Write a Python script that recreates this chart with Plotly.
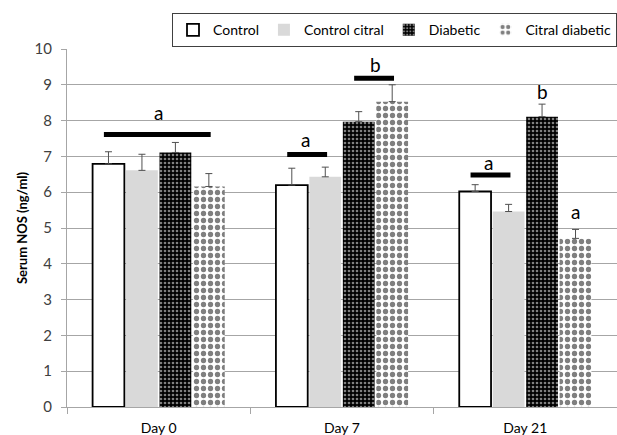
import plotly.graph_objects as go

categories = ["Day 0", "Day 7", "Day 21"]
series_names = ["Control", "Control citral", "Diabetic", "Citral diabetic"]
control = [6.79, 6.20, 6.02]
control_err = [0.34, 0.47, 0.19]
control_citral = [6.61, 6.43, 5.46]
control_citral_err = [0.45, 0.27, 0.20]
diabetic = [7.11, 7.97, 8.11]
diabetic_err = [0.28, 0.28, 0.35]
citral_diabetic = [6.16, 8.53, 4.71]
citral_diabetic_err = [0.36, 0.47, 0.25]

# significance bars: (category index, first bar, last bar, level)
sig_lines = [(0, 0, 3, 7.61), (1, 0, 1, 7.05), (1, 2, 3, 9.18), (2, 0, 1, 6.48)]
# letters: (category index, bar position (can be fractional), level, text)
sig_letters = [(0, 1.5, 8.23, "a"), (1, 0.4, 7.46, "a"), (1, 2.5, 9.56, "b"),
               (2, 0.4, 6.83, "a"), (2, 2.0, 8.80, "b"), (2, 3.0, 5.45, "a")]

FONT = "Lato"
bargap = 0.27
group_w = 1 - bargap
slot = group_w / 4


def bar_x(cat, pos):
    return cat - group_w / 2 + (pos + 0.5) * slot


values = [control, control_citral, diabetic, citral_diabetic]
errors = [control_err, control_citral_err, diabetic_err, citral_diabetic_err]
markers = [
    dict(color="white", line=dict(color="black", width=1.8)),
    dict(color="#d9d9d9", line=dict(width=0)),
    dict(color="black", line=dict(width=0),
         pattern=dict(shape=".", fgcolor="white", bgcolor="black", size=4, solidity=0.35)),
    dict(color="white", line=dict(width=0),
         pattern=dict(shape=".", fgcolor="black", bgcolor="white", size=7, solidity=0.45)),
]

fig = go.Figure()
for name, v, e, m in zip(series_names, values, errors, markers):
    fig.add_trace(go.Bar(
        x=categories, y=v, name=name, marker=m,
        error_y=dict(type="data", symmetric=False, array=e, arrayminus=[0] * len(e),
                     color="#505050", thickness=1, width=3.5),
    ))

for cat, b0, b1, lvl in sig_lines:
    fig.add_shape(type="line", xref="x", yref="y",
                  x0=bar_x(cat, b0) - 0.025, x1=bar_x(cat, b1) + 0.01, y0=lvl, y1=lvl,
                  line=dict(color="black", width=5))

for cat, pos, lvl, txt in sig_letters:
    fig.add_annotation(x=bar_x(cat, pos), y=lvl, xref="x", yref="y", text=txt,
                       showarrow=False, font=dict(family=FONT, size=19, color="black"))

fig.update_layout(
    width=617, height=435,
    margin=dict(l=67, r=0, t=49, b=28, autoexpand=False),
    paper_bgcolor="white", plot_bgcolor="white",
    barmode="group", bargap=bargap, bargroupgap=0.05,
    font=dict(family=FONT, size=14, color="#404040"),
    legend=dict(orientation="h", x=1.0, y=1.10, xanchor="right", yanchor="top",
                bordercolor="#404040", borderwidth=1, font=dict(family=FONT, size=14, color="black"),
                itemwidth=30, tracegroupgap=0, traceorder="normal"),
    showlegend=True,
)
fig.update_xaxes(type="category", showline=True, linecolor="#a6a6a6", linewidth=1,
                 ticks="outside", tickson="boundaries", ticklen=6, tickcolor="#a6a6a6",
                 ticklabelstandoff=8,
                 tickfont=dict(family=FONT, size=14, color="black"), showgrid=False)
fig.update_yaxes(range=[0, 10], dtick=1, showline=True, linecolor="#a6a6a6", linewidth=1,
                 ticks="outside", ticklen=5, tickcolor="#a6a6a6", showgrid=True,
                 gridcolor="#a6a6a6", gridwidth=1, zeroline=False, ticklabelstandoff=6,
                 tickfont=dict(family=FONT, size=15, color="#404040"),
                 title=dict(text="<b>Serum NOS (ng/ml)</b>", standoff=4,
                            font=dict(family=FONT, size=13, color="black")))

fig.write_html("out.html")
